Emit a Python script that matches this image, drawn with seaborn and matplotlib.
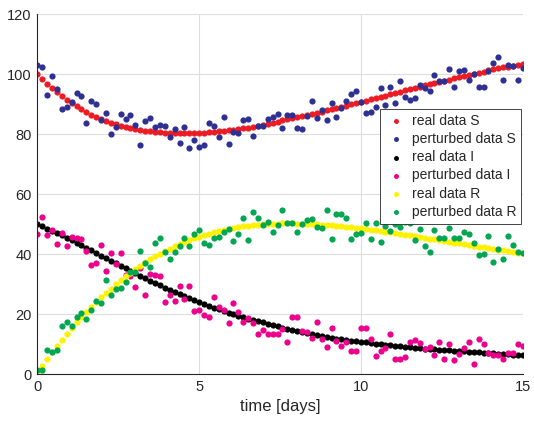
import numpy as np
import pandas as pd
import matplotlib
matplotlib.use("Agg")
import matplotlib.pyplot as plt
import seaborn as sns

# sampling grid: 100 samples over 15 days
days = np.linspace(0, 15, 100)

real_S = [100.0, 98.3, 96.8, 95.4, 94.1, 92.8, 91.6, 90.4, 89.4, 88.4,
          87.4, 86.6, 85.8, 85.1, 84.4, 83.9, 83.4, 82.9, 82.5, 82.1,
          81.7, 81.5, 81.2, 81.0, 80.8, 80.65, 80.5, 80.4, 80.36, 80.33,
          80.3, 80.36, 80.42, 80.48, 80.58, 80.7, 80.82, 80.96, 81.14, 81.32,
          81.5, 81.74, 81.98, 82.22, 82.48, 82.75, 83.02, 83.31, 83.64, 83.97,
          84.66, 85.02, 85.38, 85.74, 86.1, 86.46, 86.83, 87.22, 87.61, 88.0,
          88.39, 88.78, 89.17, 89.58, 90.0, 90.42, 90.84, 91.26, 91.68, 92.1,
          92.52, 92.94, 93.36, 93.78, 94.2, 94.62, 95.04, 95.46, 95.88, 96.3,
          96.69, 97.08, 97.47, 97.86, 98.25, 98.64, 99.03, 99.42, 99.81, 100.2,
          100.56, 100.92, 101.28, 101.62, 101.95, 102.28, 102.61, 102.94, 103.27, 103.6]

pert_S = [103.1, 102.5, 93.1, 99.5, 95.2, 88.6, 89.2, 90.8, 93.9, 92.9,
          83.9, 91.2, 90.2, 84.9, 87.2, 80.1, 82.5, 86.8, 85.2, 86.4,
          83.1, 76.5, 84.5, 85.3, 82.5, 83.1, 82.8, 79.2, 81.8, 77.0,
          82.4, 75.5, 78.1, 75.9, 76.5, 83.9, 82.8, 79.2, 85.8, 76.8,
          80.9, 80.5, 84.8, 85.2, 79.5, 82.8, 82.8, 85.0, 85.9, 86.7,
          82.2, 86.4, 86.4, 82.2, 81.9, 86.1, 91.1, 85.3, 88.1, 84.8,
          90.5, 85.8, 88.9, 91.1, 93.4, 94.5, 90.9, 87.2, 87.5, 89.2,
          95.5, 89.8, 95.9, 90.5, 97.9, 92.5, 91.4, 92.2, 96.4, 95.3,
          94.5, 99.8, 97.8, 97.8, 101.8, 95.9, 101.1, 101.4, 98.1, 100.2,
          95.9, 95.9, 101.1, 103.9, 105.9, 98.2, 103.1, 102.8, 98.2, 102.0]

real_I = [50.0, 49.28, 48.56, 47.84, 47.08, 46.3, 45.52, 44.72, 43.88, 43.04,
          42.2, 41.3, 40.4, 39.5, 38.64, 37.8, 36.96, 36.13, 35.32, 34.51,
          33.7, 32.89, 32.08, 31.27, 30.48, 29.7, 28.92, 28.16, 27.44, 26.72,
          26.0, 25.34, 24.68, 24.02, 23.4, 22.8, 22.2, 21.62, 21.08, 20.54,
          20.0, 19.52, 19.04, 18.56, 18.12, 17.7, 17.28, 16.87, 16.48, 16.09,
          15.34, 14.98, 14.62, 14.28, 13.95, 13.62, 13.3, 13.0, 12.7, 12.4,
          12.16, 11.92, 11.68, 11.46, 11.25, 11.04, 10.83, 10.62, 10.41, 10.2,
          10.02, 9.84, 9.66, 9.5, 9.35, 9.2, 9.05, 8.9, 8.75, 8.6,
          8.48, 8.36, 8.24, 8.12, 8.0, 7.88, 7.76, 7.64, 7.52, 7.4,
          7.28, 7.16, 7.04, 6.94, 6.85, 6.76, 6.67, 6.58, 6.49, 6.4]

pert_I = [46.8, 52.3, 46.6, 48.0, 43.5, 47.1, 42.8, 45.9, 45.4, 45.0,
          41.1, 36.4, 37.1, 43.2, 34.4, 40.5, 36.7, 40.5, 33.1, 32.8,
          29.0, 35.5, 26.5, 33.3, 33.1, 32.9, 24.2, 26.6, 24.5, 29.3,
          25.0, 29.3, 21.1, 21.5, 19.8, 19.0, 25.9, 22.6, 21.4, 17.0,
          23.7, 20.9, 17.6, 18.9, 17.2, 13.6, 14.9, 13.3, 13.3, 13.6,
          15.0, 10.9, 19.2, 19.2, 14.5, 14.0, 12.2, 17.6, 11.8, 9.0,
          15.6, 11.2, 9.6, 10.9, 7.7, 7.9, 15.6, 15.6, 11.7, 6.1,
          7.9, 8.7, 13.3, 5.0, 5.1, 5.9, 10.9, 11.3, 10.5, 8.3,
          9.2, 6.4, 10.9, 5.1, 10.0, 4.8, 6.7, 8.7, 10.7, 3.3,
          11.7, 10.1, 7.0, 6.4, 6.4, 5.0, 7.0, 7.0, 10.0, 9.6]

real_R = [0.3, 2.8, 5.2, 7.5, 9.6, 11.6, 13.6, 15.6, 17.4, 19.1,
          20.9, 22.5, 24.1, 25.7, 27.16, 28.6, 30.04, 31.42, 32.68, 33.94,
          35.2, 36.25, 37.3, 38.35, 39.3, 40.2, 41.1, 41.94, 42.66, 43.38,
          44.1, 44.7, 45.3, 45.9, 46.4, 46.85, 47.3, 47.72, 48.08, 48.44,
          48.8, 49.04, 49.28, 49.52, 49.7, 49.85, 50.0, 50.12, 50.18, 50.24,
          50.3, 50.3, 50.3, 50.26, 50.2, 50.14, 50.07, 49.98, 49.89, 49.8,
          49.65, 49.5, 49.35, 49.18, 49.0, 48.82, 48.63, 48.42, 48.21, 48.0,
          47.76, 47.52, 47.28, 47.04, 46.8, 46.56, 46.31, 46.04, 45.77, 45.5,
          45.23, 44.96, 44.69, 44.42, 44.15, 43.88, 43.61, 43.34, 43.07, 42.8,
          42.56, 42.32, 42.08, 41.82, 41.55, 41.28, 41.02, 40.78, 40.54, 40.3]

pert_R = [1.6, 1.6, 8.1, 7.3, 8.1, 16.2, 17.6, 16.2, 19.2, 20.5,
          18.5, 21.3, 24.6, 23.8, 31.5, 26.6, 28.3, 28.9, 30.8, 34.0,
          34.0, 41.1, 37.2, 35.9, 43.9, 45.6, 40.8, 38.5, 40.7, 42.8,
          45.3, 42.7, 46.7, 48.2, 43.9, 43.1, 45.3, 45.9, 47.5, 48.4,
          44.5, 46.7, 52.2, 44.8, 54.0, 52.2, 49.8, 50.9, 47.5, 49.8,
          54.8, 50.5, 50.5, 47.5, 50.1, 51.4, 51.8, 49.0, 48.7, 54.8,
          45.1, 53.4, 53.4, 52.2, 45.2, 46.7, 47.2, 50.5, 45.0, 50.5,
          44.0, 49.4, 47.8, 50.1, 49.2, 50.9, 50.5, 44.8, 48.3, 42.8,
          40.9, 48.0, 45.3, 45.3, 48.7, 45.5, 45.3, 47.5, 46.9, 43.9,
          39.8, 40.1, 46.2, 37.5, 41.7, 38.3, 46.1, 43.1, 40.9, 40.3]

series_labels = ["real data S", "perturbed data S", "real data I",
                 "perturbed data I", "real data R", "perturbed data R"]
series_values = [real_S, pert_S, real_I, pert_I, real_R, pert_R]
series_colors = ["#ED1C24", "#2E3192", "#000000", "#EC008C", "#FFF200", "#00A651"]

sns.set_style("white")
plt.rcParams["font.family"] = ["Liberation Sans", "DejaVu Sans"]

fig = plt.figure(figsize=(5.34, 4.23), dpi=100)
ax = fig.add_axes([0.0699, 0.1151, 0.909, 0.851])

for label, values, color in zip(series_labels, series_values, series_colors):
    sns.scatterplot(x=days, y=values, ax=ax, color=color, s=20,
                    linewidth=0, marker="o", label=label, legend=False)

ax.set_xlim(0, 15)
ax.set_ylim(0, 120)
ax.set_xticks([0, 5, 10, 15])
ax.set_yticks(np.arange(0, 121, 20))
ax.grid(True, color="#dedede", linewidth=0.8)
ax.set_axisbelow(True)
for side in ("top", "right"):
    ax.spines[side].set_visible(False)
for side in ("left", "bottom"):
    ax.spines[side].set_color("#262626")
    ax.spines[side].set_linewidth(0.8)
ax.tick_params(direction="in", length=4.5, width=0.8, color="#262626",
               labelcolor="#262626", labelsize=10.5, pad=4)
ax.set_xlabel("time [days]", fontsize=12, color="#262626", labelpad=4)
ax.set_ylabel("")

leg = ax.legend(loc="upper right", bbox_to_anchor=(0.9965, 0.737),
                fontsize=10, frameon=True, fancybox=False, framealpha=1,
                edgecolor="#262626", borderpad=0.35, labelspacing=0.3,
                handletextpad=0.25, handlelength=1.7, markerscale=0.8,
                borderaxespad=0)
leg.get_frame().set_linewidth(0.6)

fig.savefig("out.png", dpi=100)
